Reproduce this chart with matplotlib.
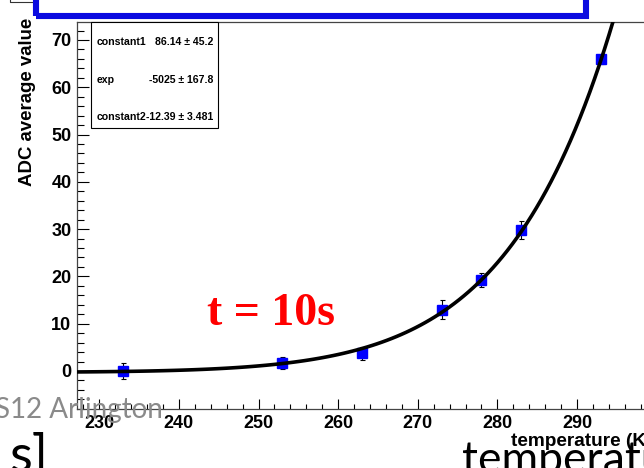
import numpy as np
import matplotlib.pyplot as plt
from matplotlib.ticker import MultipleLocator
from matplotlib.patches import Rectangle
from matplotlib.lines import Line2D

# ADC readout vs. temperature (t = 10 s exposure)
temperature = [233, 253, 263, 273, 278, 283, 293]
adc_mean = [0.0, 1.7, 3.7, 13.0, 19.3, 29.8, 65.9]
adc_err = [1.6, 1.3, 1.4, 2.1, 1.5, 1.9, 1.0]

# fitted curve: amp * exp(-act * (1/T - 1/tref)) + offset
fit_amp = 66.0
fit_tref = 293.0
fit_act = 6600.0
fit_offset = -0.3

stat_names = ["constant1", "exp", "constant2"]
stat_values = ["86.14", "-5025", "-12.39"]
stat_errors = ["45.2", "167.8", "3.481"]

W, H = 644, 468


def fx(x):
    return x / W


def fy(y):
    return 1 - y / H


fig = plt.figure(figsize=(W / 100, H / 100), dpi=100)
ax = fig.add_axes([fx(77), fy(409), 575.6 / W, 387 / H])

T = np.linspace(227.2, 299.5, 120)
fit = fit_amp * np.exp(-fit_act * (1 / T - 1 / fit_tref)) + fit_offset

ax.errorbar(temperature, adc_mean, yerr=adc_err, fmt='s', color='#0000ff',
            ms=6.5, mec='#0000ff', ecolor='black', elinewidth=0.8,
            capsize=1.8, capthick=0.8, zorder=3)
ax.plot(T, fit, color='black', lw=2.6, zorder=4)

ax.set_xlim(227.2, 299.5)
ax.set_ylim(-8.04, 73.8)
ax.xaxis.set_major_locator(MultipleLocator(10))
ax.xaxis.set_minor_locator(MultipleLocator(2))
ax.yaxis.set_major_locator(MultipleLocator(10))
ax.yaxis.set_minor_locator(MultipleLocator(2))
ax.tick_params(axis='x', which='major', direction='in', length=7.2, width=0.8, pad=4.5)
ax.tick_params(axis='x', which='minor', direction='in', length=3.6, width=0.8)
ax.tick_params(axis='y', which='major', direction='in', length=8.5, width=0.8, pad=4)
ax.tick_params(axis='y', which='minor', direction='in', length=5, width=0.8)
for lab in ax.get_xticklabels() + ax.get_yticklabels():
    lab.set_fontfamily('Liberation Sans')
    lab.set_fontweight('bold')
    lab.set_fontsize(13)
ax.spines['right'].set_visible(False)
for s in ['left', 'bottom', 'top']:
    ax.spines[s].set_color('#444444')
    ax.spines[s].set_linewidth(0.9)

fig.text(fx(28), fy(18), "ADC average value", rotation=90, ha='center', va='top',
         family='Liberation Sans', weight='bold', fontsize=13.4)
fig.text(fx(511), fy(441), "temperature (K)", ha='left', va='center',
         family='Liberation Sans', weight='bold', fontsize=13.7)

# fit statistics box
fig.patches.append(Rectangle((fx(91), fy(128)), (218 - 91) / W, (128 - 22) / H,
                             transform=fig.transFigure, facecolor='white',
                             edgecolor='black', lw=0.8, zorder=5))
for i, (name, val, err) in enumerate(zip(stat_names, stat_values, stat_errors)):
    yy = fy(42 + i * 37.5)
    fig.text(fx(97), yy, name, ha='left', va='center', family='Liberation Sans',
             weight='bold', fontsize=7.6, zorder=6)
    fig.text(fx(213), yy, f"{val} \u00b1 {err}", ha='right', va='center',
             family='Liberation Sans', weight='bold', fontsize=7.6, zorder=6)

fig.text(fx(271), fy(325), "t = 10s", ha='center', va='baseline', color='#ff0000',
         family='Liberation Serif', weight='bold', fontsize=33)

# slide overlay: title box and stray text
fig.patches.append(Rectangle((fx(36), fy(15.5)), (586 - 36) / W, 40 / H,
                             transform=fig.transFigure, fill=False,
                             edgecolor='#0a0ae0', lw=4.4, zorder=5))
fig.lines.append(Line2D([fx(10), fx(10), fx(33)], [fy(-2), fy(2), fy(2)],
                        transform=fig.transFigure, color='#333333', lw=0.8))
fig.text(fx(163), fy(418), "S12 Arlington", ha='right', va='baseline',
         color='#8a8a8a', family='Lato', fontsize=20, zorder=7)
fig.text(fx(48), fy(472), "s]", ha='right', va='baseline', color='black',
         family='Lato', fontsize=38, zorder=7)
fig.text(fx(462), fy(473), "temperature", ha='left', va='baseline', color='black',
         family='Lato', fontsize=32, zorder=7)

fig.savefig('out.png', dpi=100)
